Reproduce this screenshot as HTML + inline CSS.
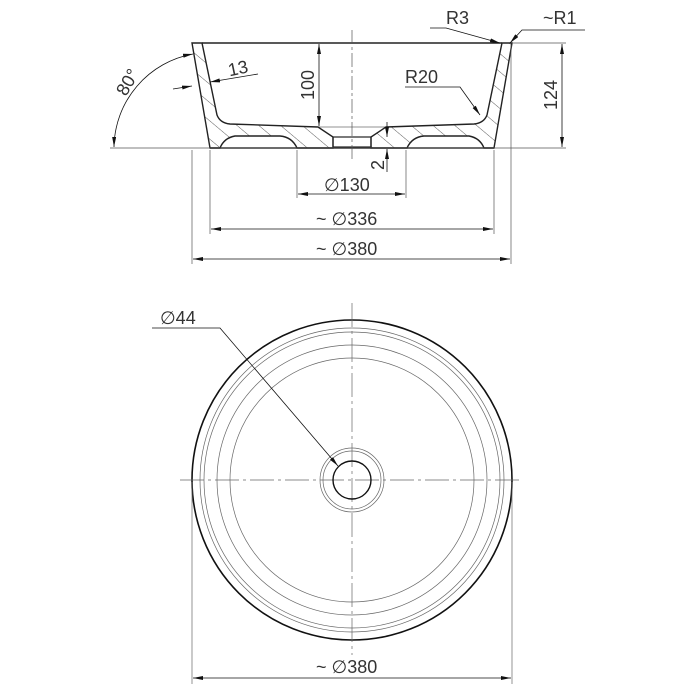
<!DOCTYPE html>
<html><head><meta charset="utf-8"><style>html,body{margin:0;padding:0;background:#fff}svg{display:block}</style></head>
<body>
<svg width="700" height="700" viewBox="0 0 700 700" xmlns="http://www.w3.org/2000/svg" font-family="Liberation Sans, sans-serif">
<defs>
<marker id="a" viewBox="0 0 10 4" refX="10" refY="2" markerWidth="10" markerHeight="4" orient="auto-start-reverse" markerUnits="userSpaceOnUse"><path d="M0,0 L10,2 L0,4z" fill="#111"/></marker>
<pattern id="h" patternUnits="userSpaceOnUse" width="14" height="14" patternTransform="rotate(-50)"><line x1="0" y1="0" x2="0" y2="14" stroke="#333" stroke-width="0.8"/></pattern>
</defs>
<g fill="none" stroke="#222">
<path d="M192,43 L202,43 L217,115 Q220,123 230,124 L318,127 L333,137 L333,148 L297,148 Q292,137 280,136 L235,136 Q224,138 220,148 L210,148 Z" fill="url(#h)" stroke-width="1.4"/>
<path d="M512,43 L502,43 L487,115 Q484,123 474,124 L386,127 L371,137 L371,148 L407,148 Q412,137 424,136 L469,136 Q480,138 484,148 L494,148 Z" fill="url(#h)" stroke-width="1.4"/>
<line x1="202" y1="43" x2="502" y2="43" stroke-width="1.4"/>
<rect x="333" y="137" width="38" height="10" stroke-width="1.2"/>
<line x1="210" y1="148" x2="494" y2="148" stroke-width="1.4"/>
<line x1="318" y1="127" x2="386" y2="127" stroke-width="0.6"/>
<g stroke-width="0.7" stroke="#555">
<line x1="110" y1="148" x2="566" y2="148"/>
<line x1="192" y1="150" x2="192" y2="264"/>
<line x1="210" y1="150" x2="210" y2="234"/>
<line x1="297" y1="150" x2="297" y2="198"/>
<line x1="406" y1="150" x2="406" y2="198"/>
<line x1="494" y1="150" x2="494" y2="234"/>
<line x1="511" y1="45" x2="511" y2="264"/>
<line x1="512" y1="43" x2="566" y2="43"/>
<line x1="352" y1="30" x2="352" y2="160" stroke-dasharray="14 3 3 3"/>
</g>
<g stroke-width="0.8" stroke="#111">
<line x1="298" y1="194" x2="405" y2="194" marker-start="url(#a)" marker-end="url(#a)"/>
<line x1="211" y1="229" x2="493" y2="229" marker-start="url(#a)" marker-end="url(#a)"/>
<line x1="193" y1="259" x2="510" y2="259" marker-start="url(#a)" marker-end="url(#a)"/>
<line x1="319" y1="44" x2="319" y2="126" marker-start="url(#a)" marker-end="url(#a)"/>
<line x1="562" y1="44" x2="562" y2="147" marker-start="url(#a)" marker-end="url(#a)"/>
<line x1="387" y1="122" x2="387" y2="137" marker-end="url(#a)"/>
<line x1="387" y1="172" x2="387" y2="149" marker-end="url(#a)"/>
<line x1="173" y1="89" x2="192" y2="86" marker-end="url(#a)"/>
<line x1="258" y1="74" x2="210" y2="82" marker-end="url(#a)"/>
<path d="M114,147 A96,96 0 0 1 193,54" marker-start="url(#a)" marker-end="url(#a)"/>
<polyline points="430,28 446,28 500,43" marker-end="url(#a)"/>
<polyline points="585,30 522,30 510,43" marker-end="url(#a)"/>
<polyline points="405,87 460,87 480,115" marker-end="url(#a)"/>
</g>
<circle cx="352" cy="480" r="160" stroke-width="1.6" stroke="#111"/>
<g stroke-width="0.7" stroke="#666">
<circle cx="352" cy="480" r="152"/><circle cx="352" cy="480" r="148"/>
<circle cx="352" cy="480" r="135"/><circle cx="352" cy="480" r="122"/>
<circle cx="352" cy="480" r="32"/><circle cx="352" cy="480" r="29"/>
<line x1="180" y1="480" x2="522" y2="480" stroke-dasharray="24 4 3 4"/>
<line x1="352" y1="303" x2="352" y2="655" stroke-dasharray="24 4 3 4"/>
<line x1="192" y1="482" x2="192" y2="684"/>
<line x1="512" y1="482" x2="512" y2="684"/>
</g>
<circle cx="352" cy="480" r="19" stroke-width="1.4" stroke="#111"/>
<g stroke-width="0.8" stroke="#111">
<polyline points="152,328 220,328 338,466" marker-end="url(#a)"/>
<line x1="193" y1="678" x2="511" y2="678" marker-start="url(#a)" marker-end="url(#a)"/>
</g>
</g>
<g fill="#333" font-size="18">
<text x="324" y="191">∅130</text>
<text x="316" y="225">~ ∅336</text>
<text x="316" y="255">~ ∅380</text>
<text x="316" y="673">~ ∅380</text>
<text x="160" y="324">∅44</text>
<text x="228" y="74" transform="rotate(-12 240 68)">13</text>
<text x="405" y="83">R20</text>
<text x="446" y="24">R3</text>
<text x="543" y="24">~R1</text>
<text transform="translate(314,100) rotate(-90)">100</text>
<text transform="translate(557,110) rotate(-90)">124</text>
<text transform="translate(384,170) rotate(-90)">2</text>
<text transform="translate(126,97) rotate(-60)">80°</text>
</g>
</svg>
</body></html>
